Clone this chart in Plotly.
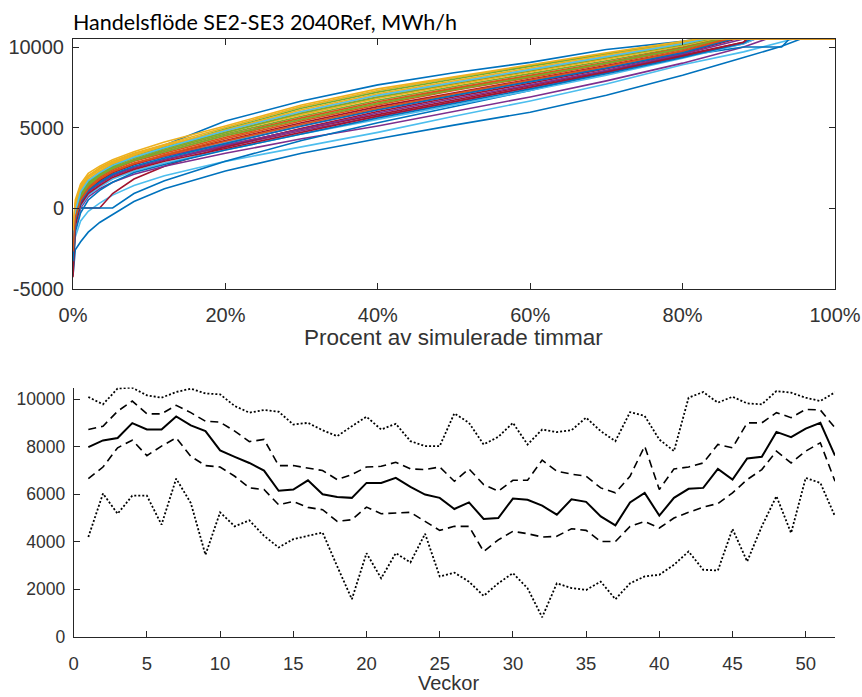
import plotly.graph_objects as go

# ---------------- data: top chart (duration curves, MWh/h) ----------------
pct_grid = [0, 0.3, 1, 2, 3.5, 5.2, 8, 12, 20, 30, 40, 50, 60, 70, 80, 88, 93]
cap_value = 10500
curves = [
    [-1800, -200, 900, 1500, 2100, 2600, 3200, 3900, 5400, 6650, 7650, 8400, 9050, 9850, 10350],
    [-2600, -600, 700, 1400, 2000, 2500, 3000, 3600, 4700, 5900, 6900, 7700, 8500, 9300, 10100],
    [-1500, 300, 1400, 2000, 2500, 2900, 3400, 3950, 5000, 6300, 7300, 8100, 8850, 9600, 10300],
    [-3000, -800, 500, 1200, 1700, 2100, 2500, 3000, 3800, 4800, 5700, 6600, 7500, 8400, 9400, 10200],
    [-2200, -300, 900, 1600, 2200, 2700, 3200, 3800, 4900, 6200, 7200, 8000, 8800, 9550, 10250],
    [-3500, -1800, -800, -200, 300, 800, 1400, 2000, 2900, 3800, 4700, 5700, 6650, 7700, 8900, 9700, 10300],
    [-3800, -1000, 0, 0, 0, 900, 1800, 2600, 3800, 4950, 6000, 6900, 7750, 8650, 9600, 10400],
    [-4200, -2600, -2100, -1500, -900, -400, 400, 1200, 2300, 3400, 4300, 5150, 5950, 7000, 8250, 9350, 10050],
    [-2800, -500, 600, 1300, 1900, 2400, 2900, 3400, 4400, 5500, 6500, 7400, 8200, 9000, 9900],
    [-1900, 0, 1200, 1900, 2400, 2800, 3300, 3850, 4850, 6100, 7100, 7900, 8700, 9500, 10250],
    [-3300, -1300, 0, 700, 1200, 1600, 2100, 2600, 3400, 4300, 5100, 6000, 6900, 7900, 9000, 10000],
    [-2400, -400, 800, 1500, 2000, 2500, 3000, 3600, 4600, 5700, 6700, 7550, 8350, 9150, 10000],
    [-3000, -700, 400, 1100, 1700, 2200, 2700, 3200, 4100, 5200, 6200, 7100, 7900, 8800, 9700],
    [-3400, -900, 300, 1000, 1600, 2000, 2500, 3000, 3900, 4900, 5800, 6700, 7600, 8500, 9500, 10300],
    [-3600, 0, 0, 0, 0, 0, 900, 1700, 2900, 4200, 5300, 6300, 7300, 8450, 9450, 10000, 10000],
    [-2500, -500, 700, 1400, 1900, 2400, 2950, 3500, 4500, 5600, 6600, 7450, 8250, 9050, 9950],
    [-2000, -100, 1100, 1800, 2300, 2750, 3200, 3700, 4700, 5800, 6800, 7650, 8450, 9250, 10100],
    [-2700, -600, 500, 1200, 1700, 2200, 2700, 3200, 4000, 5100, 6100, 7000, 7850, 8700, 9650],
    [-2300, -300, 900, 1600, 2100, 2600, 3100, 3700, 4700, 5900, 6900, 7750, 8550, 9350, 10150],
    [-3700, -1200, 100, 800, 1300, 1800, 2300, 2800, 3600, 4600, 5500, 6400, 7300, 8250, 9300, 10200],
    [-3100, -700, 400, 1100, 1700, 2200, 2700, 3300, 4200, 5300, 6300, 7150, 8000, 8850, 9750],
    [-3900, -1500, -300, 500, 1100, 1600, 2200, 2700, 3600, 4600, 5600, 6500, 7400, 8350, 9350, 10250],
    [-2900, -600, 500, 1200, 1800, 2300, 2800, 3300, 4300, 5400, 6400, 7300, 8100, 8950, 9850],
    [-1600, 200, 1300, 2000, 2450, 2850, 3350, 3900, 4800, 6000, 7000, 7800, 8600, 9400, 10200],
    [-3200, -900, 300, 1000, 1500, 2000, 2500, 3000, 3900, 4900, 5900, 6800, 7650, 8550, 9550, 10350],
    [-2600, -400, 700, 1400, 2000, 2450, 2950, 3500, 4500, 5500, 6500, 7350, 8150, 9000, 9900],
    [-2100, -200, 1000, 1700, 2200, 2650, 3150, 3750, 4800, 6000, 7000, 7800, 8600, 9400, 10200],
    [-4300, -1100, 200, 900, 1400, 1900, 2400, 2900, 3700, 4700, 5700, 6600, 7500, 8450, 9450, 10300],
    [-3300, -800, 400, 1100, 1600, 2100, 2600, 3100, 4000, 5100, 6100, 7000, 7850, 8700, 9650],
    [-2700, -600, 500, 1200, 1800, 2250, 2750, 3250, 4150, 5200, 6200, 7100, 7950, 8800, 9750],
    [-1400, 500, 1500, 2150, 2600, 3000, 3500, 4100, 5100, 6400, 7400, 8150, 8900, 9650, 10350],
]
cap_at = [82, 83.5, 82.5, 89.5, 83, 94.5, 87, 95.5, 85, 83, 91, 84.5, 86, 88.5, 94, 85, 84,
          86.5, 83.5, 89.5, 86, 89, 85.5, 83, 88, 85, 83, 88.5, 86.5, 86, 82]
matlab_colors = ["#0072BD", "#D95319", "#EDB120", "#7E2F8E", "#77AC30", "#4DBEEE", "#A2142F"]

# ---------------- data: bottom chart (weekly statistics, MWh/h) ----------------
weeks = list(range(1, 53))
w_max = [10100, 9790, 10460, 10490, 10170, 10070, 10310, 10450, 10250, 10210, 9720, 9440, 9550,
         9480, 8940, 9010, 8700, 8450, 8870, 9270, 8730, 8970, 8240, 8030, 8030, 9410, 9010,
         8100, 8420, 9010, 8100, 8730, 8620, 8700, 9230, 8660, 8240, 9460, 9300, 8310, 7820,
         10070, 10310, 9860, 10110, 9830, 9790, 10350, 10280, 10070, 9930, 10300]
w_p75 = [8730, 8870, 9500, 9930, 9390, 9390, 9750, 9440, 9080, 9040, 8660, 8220, 8310, 7210,
         7210, 7110, 7000, 6620, 6830, 7150, 7180, 7350, 7070, 7040, 7150, 6550, 7070, 6410,
         6130, 6590, 6590, 7440, 6970, 6850, 6760, 6270, 6060, 6760, 8030, 6200, 7070, 7150,
         7320, 8100, 7960, 9010, 9010, 9440, 9230, 9580, 9550, 8800]
w_med = [7990, 8270, 8370, 9000, 8730, 8730, 9280, 8900, 8660, 7850, 7580, 7320, 7000, 6150,
         6200, 6590, 6000, 5890, 5850, 6480, 6480, 6690, 6310, 5990, 5850, 5380, 5660, 4960,
         5000, 5820, 5770, 5520, 5140, 5790, 5680, 5070, 4690, 5660, 6060, 5100, 5850, 6230,
         6270, 7070, 6620, 7510, 7580, 8630, 8410, 8770, 9010, 7630]
w_p25 = [6660, 7150, 7960, 8280, 7630, 8030, 8380, 7600, 7210, 7150, 6760, 6270, 6200, 5560,
         5700, 5450, 5350, 4860, 4930, 5460, 5180, 5210, 5240, 4860, 4480, 4650, 4650, 3590,
         4080, 4440, 4340, 4200, 4230, 4550, 4480, 4010, 4010, 4650, 4860, 4580, 5000, 5240,
         5460, 5610, 6060, 6620, 7040, 7820, 7320, 7820, 8170, 6550]
w_min = [4200, 6030, 5180, 5940, 5940, 4720, 6660, 5630, 3450, 5240, 4650, 4900, 4250, 3760,
         4110, 4250, 4390, 2960, 1580, 3520, 2460, 3520, 3130, 4340, 2540, 2700, 2320, 1720,
         2250, 2680, 2040, 820, 2250, 2050, 1970, 2320, 1580, 2250, 2540, 2610, 3030, 3590,
         2820, 2790, 4540, 3170, 4650, 5920, 4370, 6690, 6480, 5070]

top_xticks = [0, 20, 40, 60, 80, 100]
top_xticklabels = ["0%", "20%", "40%", "60%", "80%", "100%"]
top_yticks = [-5000, 0, 5000, 10000]
top_yticklabels = ["-5000", "0", "5000", "10000"]
bot_xticks = list(range(0, 55, 5))
bot_xticklabels = [str(v) for v in bot_xticks]
bot_yticks = list(range(0, 10001, 2000))
bot_yticklabels = [str(v) for v in bot_yticks]

title_text = "Handelsflöde SE2-SE3 2040Ref, MWh/h"
top_xlabel = "Procent av simulerade timmar"
bot_xlabel = "Veckor"

# ---------------- layout geometry (pixels) ----------------
W, H = 862, 697
def fx(px):
    return px / W
def fy(py):
    return 1 - py / H

fig = go.Figure()

for i, vals in enumerate(curves):
    xs, ys = [], []
    for p, v in zip(pct_grid, vals):
        if p < cap_at[i]:
            xs.append(p)
            ys.append(v)
    xs += [cap_at[i], 100]
    ys += [cap_value, cap_value]
    fig.add_trace(go.Scatter(x=xs, y=ys, mode="lines", xaxis="x", yaxis="y",
                             line=dict(color=matlab_colors[i % 7], width=1.6),
                             showlegend=False, hoverinfo="skip"))

line_specs = [
    (w_max, "2px,2px", 1.8),
    (w_p75, "8px,5px", 1.6),
    (w_med, "solid", 2.0),
    (w_p25, "8px,5px", 1.6),
    (w_min, "2px,2px", 1.8),
]
for vals, dash, wdt in line_specs:
    fig.add_trace(go.Scatter(x=weeks, y=vals, mode="lines", xaxis="x2", yaxis="y2",
                             line=dict(color="black", width=wdt, dash=dash),
                             showlegend=False, hoverinfo="skip"))

axcol = "#262626"
sans = "Liberation Sans"
tickfont_top = dict(family=sans, size=20, color="#333333")
tickfont_boty = dict(family=sans, size=17.5, color="#333333")
tickfont_botx = dict(family=sans, size=18.5, color="#333333")

common = dict(automargin=False, showgrid=False, zeroline=False, showline=True,
              linecolor=axcol, linewidth=1, ticks="inside", ticklen=6, tickcolor=axcol,
              tickmode="array")

fig.update_layout(
    width=W, height=H,
    margin=dict(l=0, r=0, t=0, b=0, pad=0),
    paper_bgcolor="white", plot_bgcolor="white",
    font=dict(family=sans, color="#333333"),
    xaxis=dict(domain=[fx(73), fx(835)], range=[0, 100], anchor="y",
               tickvals=top_xticks, ticktext=top_xticklabels, mirror="ticks",
               tickfont=tickfont_top, ticklabelstandoff=8, **common),
    yaxis=dict(domain=[fy(288.5), fy(39)], range=[-5000, 10500], anchor="x",
               tickvals=top_yticks, ticktext=top_yticklabels, mirror="ticks",
               tickfont=tickfont_top, ticklabelstandoff=4, **common),
    xaxis2=dict(domain=[fx(73.7), fx(835)], range=[0, 52], anchor="y2",
                tickvals=bot_xticks, ticktext=bot_xticklabels,
                tickfont=tickfont_botx, ticklabelstandoff=10, **common),
    yaxis2=dict(domain=[fy(636.7), fy(387.5)], range=[0, 10500], anchor="x2",
                tickvals=bot_yticks, ticktext=bot_yticklabels,
                tickfont=tickfont_boty, ticklabelstandoff=4, **common),
    annotations=[
        dict(text=title_text, xref="paper", yref="paper", x=fx(71), y=fy(22),
             xanchor="left", yanchor="middle", showarrow=False,
             font=dict(family="Lato", size=21.5, color="black")),
        dict(text=top_xlabel, xref="paper", yref="paper", x=fx(454), y=fy(338),
             xanchor="center", yanchor="middle", showarrow=False,
             font=dict(family=sans, size=22.5, color="#333333")),
        dict(text=bot_xlabel, xref="paper", yref="paper", x=fx(448), y=fy(683),
             xanchor="center", yanchor="middle", showarrow=False,
             font=dict(family=sans, size=20, color="#333333")),
    ],
)

fig.write_html("out.html")
